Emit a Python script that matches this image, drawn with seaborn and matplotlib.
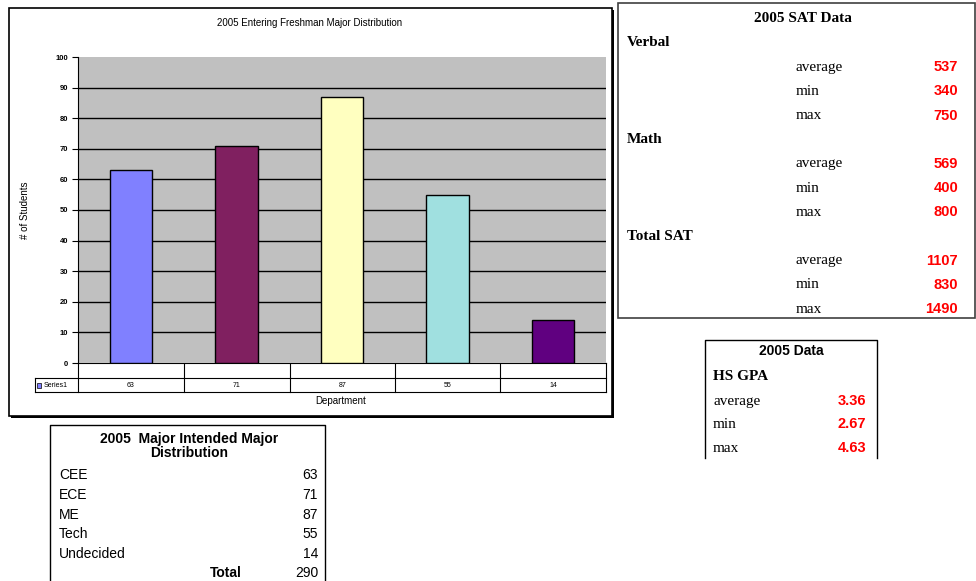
import matplotlib
matplotlib.use("Agg")
import matplotlib.pyplot as plt
import seaborn as sns
import pandas as pd
from matplotlib.patches import Rectangle

# ---- data ----
departments = ["CEE", "ECE", "ME", "Tech", "Undecided"]
students = [63, 71, 87, 55, 14]
bar_colors = ["#8080FF", "#802060", "#FFFFC0", "#A0E0E0", "#600080"]
y_ticks = [0, 10, 20, 30, 40, 50, 60, 70, 80, 90, 100]

sat_sections = ["Verbal", "Math", "Total SAT"]
sat_stats = ["average", "min", "max"]
sat_values = [[537, 340, 750], [569, 400, 800], [1107, 830, 1490]]

gpa_stats = ["average", "min", "max"]
gpa_values = ["3.36", "2.67", "4.63"]

df = pd.DataFrame({"dept": departments, "n": students})

W, H = 976, 581
fig = plt.figure(figsize=(W / 100, H / 100), dpi=100)

# overlay in pixel coordinates for frames and text tables
ov = fig.add_axes([0, 0, 1, 1], zorder=0)
ov.set_xlim(0, W)
ov.set_ylim(H, 0)
ov.axis("off")


def px_axes(x0, y0, x1, y1):
    return [x0 / W, 1 - y1 / H, (x1 - x0) / W, (y1 - y0) / H]


# ---- chart frame with shadow ----
ov.add_patch(Rectangle((11, 10), 603, 408, facecolor="black", edgecolor="none"))
ov.add_patch(Rectangle((9, 8), 603, 408, facecolor="white", edgecolor="black", lw=1.2))

# ---- bar chart ----
PL, PT, PR, PB = 78, 57, 606, 363
ax = fig.add_axes(px_axes(PL, PT, PR, PB), zorder=2)
ax.set_facecolor("#C0C0C0")
sns.barplot(data=df, x="dept", y="n", hue="dept", palette=bar_colors, saturation=1,
            width=0.4, edgecolor="black", linewidth=1, legend=False, ax=ax, zorder=3)
ax.set_ylim(0, 100)
ax.set_yticks(y_ticks)
ax.set_yticklabels([str(t) for t in y_ticks], fontsize=5.5, fontweight="bold",
                   family="Liberation Sans")
ax.set_xticks([])
ax.set_xlabel("")
ax.set_ylabel("")
for t in y_ticks[1:-1]:
    ax.axhline(t, color="black", lw=1, zorder=1)
for s in ["top", "right", "bottom"]:
    ax.spines[s].set_visible(False)
ax.spines["left"].set_linewidth(0.8)
ax.tick_params(axis="y", length=4, width=0.8, pad=3)

ov.text(310, 23, "2005 Entering Freshman Major Distribution", fontsize=7,
        family="Liberation Sans", ha="center", va="center")
ov.text(25, 210, "# of Students", fontsize=7, family="Liberation Sans",
        rotation=90, ha="center", va="center")
ov.text(341, 401, "Department", fontsize=7, family="Liberation Sans",
        ha="center", va="center")

# data table under the chart
col_edges = [78, 184, 290, 395, 500, 606]
lk = dict(color="black", lw=0.8)
ov.plot([78, 606], [363, 363], **lk)
ov.plot([35, 606], [378, 378], **lk)
ov.plot([35, 606], [392, 392], **lk)
ov.plot([35, 35], [378, 392], **lk)
for xe in col_edges:
    ov.plot([xe, xe], [363, 392], **lk)
for i, v in enumerate(students):
    ov.text((col_edges[i] + col_edges[i + 1]) / 2, 385.5, str(v), fontsize=5,
            family="Liberation Sans", ha="center", va="center")
ov.add_patch(Rectangle((37, 383), 4, 5, facecolor=bar_colors[0], edgecolor="black", lw=0.5))
ov.text(44, 385.5, "Series1", fontsize=5, family="Liberation Sans", va="center")

# ---- SAT box ----
ov.add_patch(Rectangle((618, 3), 357, 315, facecolor="none", edgecolor="#404040", lw=1.2))
ov.text(803, 18, "2005 SAT Data", fontsize=11, fontweight="bold",
        family="Liberation Serif", ha="center", va="center")
y = 43
for sec, vals in zip(sat_sections, sat_values):
    ov.text(627, y, sec, fontsize=11, fontweight="bold", family="Liberation Serif",
            va="center")
    y += 24.2
    for st, v in zip(sat_stats, vals):
        ov.text(796, y, st, fontsize=11, family="Liberation Serif", va="center")
        ov.text(958, y, str(v), fontsize=10.5, fontweight="bold", color="#FF0000",
                family="Liberation Sans", ha="right", va="center")
        y += 24.2

# ---- GPA box ----
ov.plot([705, 705, 877, 877], [458, 340, 340, 458], color="black", lw=1)
ov.text(791, 351, "2005 Data", fontsize=10, fontweight="bold",
        family="Liberation Sans", ha="center", va="center")
ov.text(713, 376, "HS GPA", fontsize=11, fontweight="bold",
        family="Liberation Serif", va="center")
for i, (st, v) in enumerate(zip(gpa_stats, gpa_values)):
    yy = 401 + i * 23.5
    ov.text(713, yy, st, fontsize=11, family="Liberation Serif", va="center")
    ov.text(866, yy, v, fontsize=10.5, fontweight="bold", color="#FF0000",
            family="Liberation Sans", ha="right", va="center")

# ---- major distribution box ----
ov.plot([50, 50, 325, 325], [583, 425, 425, 583], color="black", lw=1)
ov.text(189, 446, "2005  Major Intended Major\nDistribution", fontsize=10,
        fontweight="bold", family="Liberation Sans", ha="center", va="center",
        linespacing=1.05)
for i, (d, v) in enumerate(zip(departments, students)):
    yy = 475 + i * 19.8
    ov.text(59, yy, d, fontsize=10, family="Liberation Sans", va="center")
    ov.text(318, yy, str(v), fontsize=10, family="Liberation Sans", ha="right",
            va="center")
ov.text(226, 573, "Total", fontsize=10, fontweight="bold", family="Liberation Sans",
        ha="center", va="center")
ov.text(318, 573, str(sum(students)), fontsize=10, family="Liberation Sans",
        ha="right", va="center")

fig.savefig("out.png", dpi=100)
